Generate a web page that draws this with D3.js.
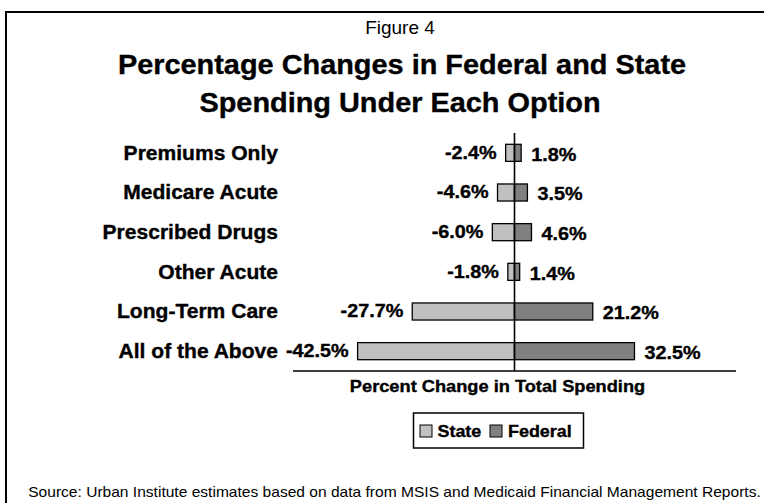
<!DOCTYPE html>
<html>
<head>
<meta charset="utf-8">
<script src="https://cdn.jsdelivr.net/npm/d3@7"></script>
<style>
  html, body { margin: 0; padding: 0; background: #fff; }
  svg { display: block; }
  text { font-family: "Liberation Sans", Arial, sans-serif; fill: #000; }
  text.b { font-weight: bold; stroke: #000; stroke-width: 0.35px; }
</style>
</head>
<body>
<svg id="chart" width="764" height="503"></svg>
<script>
// Options compared (top to bottom)
const categories = ["Premiums Only", "Medicare Acute", "Prescribed Drugs", "Other Acute", "Long-Term Care", "All of the Above"];
// Percent change in spending by payer
const stateChange   = [-2.4, -4.6, -6.0, -1.8, -27.7, -42.5];
const federalChange = [1.8, 3.5, 4.6, 1.4, 21.2, 32.5];
const seriesNames = ["State", "Federal"];
const seriesColors = ["#c0c0c0", "#808080"];
const xDomain = [-60, 60];

const svg = d3.select("#chart");

// Stretch a text horizontally around its own anchor point
function stretch(sel, sx) {
  sel.attr("transform", function () {
    const x = +this.getAttribute("x"), y = +this.getAttribute("y");
    return `translate(${x},${y}) scale(${sx},1) translate(${-x},${-y})`;
  });
}

// Outer frame
svg.append("rect")
  .attr("x", 6).attr("y", 12).attr("width", 800).attr("height", 600)
  .attr("fill", "none").attr("stroke", "#000").attr("stroke-width", 2);

// Titles
svg.append("text").attr("x", 400).attr("y", 34).attr("text-anchor", "middle")
  .style("font-size", "19px").text("Figure 4");
const t1 = svg.append("text").attr("class", "b").attr("x", 402).attr("y", 74).attr("text-anchor", "middle")
  .style("font-size", "27px")
  .text("Percentage Changes in Federal and State");
const t2 = svg.append("text").attr("class", "b").attr("x", 400).attr("y", 112).attr("text-anchor", "middle")
  .style("font-size", "27px")
  .text("Spending Under Each Option");
stretch(t1, 1.07); stretch(t2, 1.07);

// Scales
const x = d3.scaleLinear().domain(xDomain).range([293, 736]);
const y = d3.scaleBand().domain(categories).range([133, 371])
  .paddingInner(0.57).paddingOuter(0.285);

const rows = categories.map((c, i) => ({ cat: c, values: [stateChange[i], federalChange[i]] }));

// Bars
const g = svg.append("g");
rows.forEach(r => {
  r.values.forEach((v, j) => {
    g.append("rect")
      .attr("x", Math.min(x(0), x(v)))
      .attr("y", y(r.cat))
      .attr("width", Math.abs(x(v) - x(0)))
      .attr("height", y.bandwidth())
      .attr("fill", seriesColors[j])
      .attr("stroke", "#000").attr("stroke-width", 1.3);
  });
});

// Axes: zero line and baseline
svg.append("line").attr("x1", x(0)).attr("x2", x(0)).attr("y1", 133).attr("y2", 371)
  .attr("stroke", "#000").attr("stroke-width", 1.6);
svg.append("line").attr("x1", x(xDomain[0])).attr("x2", x(xDomain[1])).attr("y1", 371).attr("y2", 371)
  .attr("stroke", "#000").attr("stroke-width", 1.6);

// Category labels
const catLabels = svg.append("g").selectAll("text").data(categories).join("text")
  .attr("class", "b")
  .attr("x", 278).attr("y", d => y(d) + y.bandwidth() / 2 + 7)
  .attr("text-anchor", "end")
  .style("font-size", "19.5px")
  .text(d => d);
stretch(catLabels, 1.08);

// Value labels
const fmt = v => v.toFixed(1) + "%";
rows.forEach(r => {
  const cy = y(r.cat) + y.bandwidth() / 2;
  const sl = svg.append("text").attr("class", "b")
    .attr("x", x(r.values[0]) - 9).attr("y", cy + 6)
    .attr("text-anchor", "end")
    .style("font-size", "18px")
    .text(fmt(r.values[0]));
  const fl = svg.append("text").attr("class", "b")
    .attr("x", x(r.values[1]) + 10).attr("y", cy + 8)
    .attr("text-anchor", "start")
    .style("font-size", "18px")
    .text(fmt(r.values[1]));
  stretch(sl, 1.1); stretch(fl, 1.1);
});

// Axis title
const at = svg.append("text").attr("class", "b").attr("x", 497.5).attr("y", 392).attr("text-anchor", "middle")
  .style("font-size", "16px")
  .text("Percent Change in Total Spending");
stretch(at, 1.14);

// Legend
const lg = svg.append("g");
lg.append("rect").attr("x", 413.5).attr("y", 413).attr("width", 170).attr("height", 35)
  .attr("fill", "#fff").attr("stroke", "#000").attr("stroke-width", 1.5);
const legX = [420, 490], legTX = [437.5, 508];
seriesNames.forEach((s, i) => {
  lg.append("rect").attr("x", legX[i]).attr("y", 425).attr("width", 12).attr("height", 12)
    .attr("fill", seriesColors[i]).attr("stroke", "#000").attr("stroke-width", 1);
  const lt = lg.append("text").attr("class", "b").attr("x", legTX[i]).attr("y", 437)
    .style("font-size", "16px").text(s);
  stretch(lt, 1.12);
});

// Source note
const src = svg.append("text").attr("x", 394.5).attr("y", 497).attr("text-anchor", "middle")
  .style("font-size", "14px")
  .text("Source: Urban Institute estimates based on data from MSIS and Medicaid Financial Management Reports.");
const srcW = src.node().getComputedTextLength();
stretch(src, 733 / srcW);
</script>
</body>
</html>
